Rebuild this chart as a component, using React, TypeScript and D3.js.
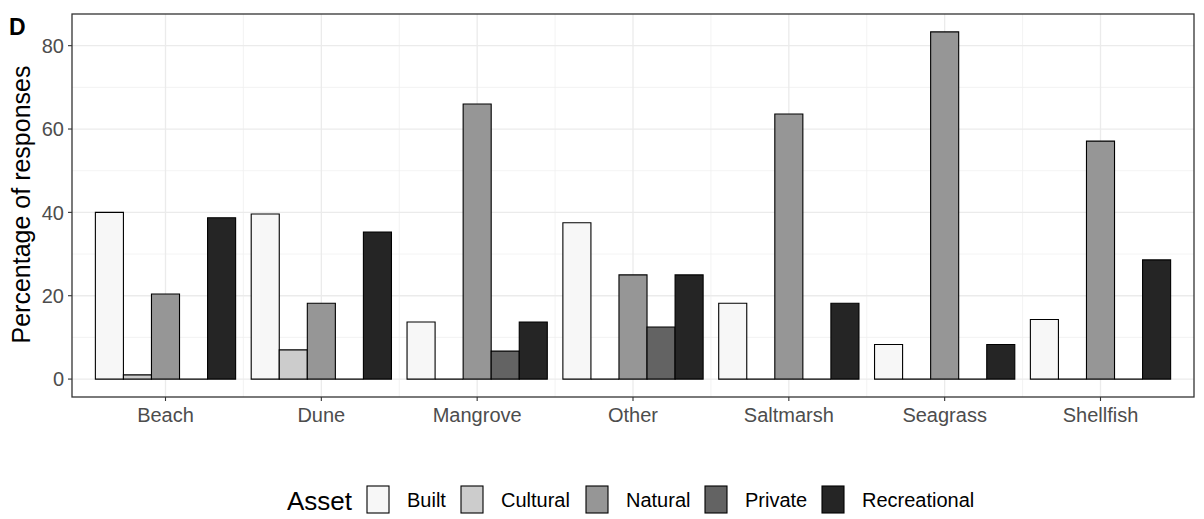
import React from "react";
import * as d3 from "d3";

const categories = ["Beach", "Dune", "Mangrove", "Other", "Saltmarsh", "Seagrass", "Shellfish"];
const assets = ["Built", "Cultural", "Natural", "Private", "Recreational"];
const built = [40.0, 39.6, 13.7, 37.5, 18.2, 8.3, 14.3];
const cultural = [1.0, 7.0, 0, 0, 0, 0, 0];
const natural = [20.4, 18.2, 66.0, 25.0, 63.6, 83.3, 57.1];
const priv = [0, 0, 6.7, 12.5, 0, 0, 0];
const recreational = [38.7, 35.3, 13.7, 25.0, 18.2, 8.3, 28.6];
const yTicks = [0, 20, 40, 60, 80];
const colors = ["#f7f7f7", "#cccccc", "#969696", "#636363", "#252525"];

const seriesValues = [built, cultural, natural, priv, recreational];

export default function App() {
  const W = 1204, H = 519;
  const left = 72, right = 1194, top = 14, bottom = 397;
  const font = "'Liberation Sans', Arial, sans-serif";

  const x = d3.scaleLinear().domain([1 - 0.6, categories.length + 0.6]).range([left, right]);
  const y = d3.scaleLinear().domain([-4.3, 87.6]).range([bottom, top]);
  const bw = (x(2) - x(1)) * 0.9;
  const sub = d3.scaleBand().domain(assets).range([-bw / 2, bw / 2]).padding(0);

  const minorY = [10, 30, 50, 70];
  const minorX = d3.range(1, categories.length).map((i) => i + 0.5);

  return (
    <svg width={W} height={H} style={{ position: "absolute", left: 0, top: 0 }} fontFamily={font}>
      <rect x={0} y={0} width={W} height={H} fill="#fff" />
      {minorY.map((v) => (
        <line key={"my" + v} x1={left} x2={right} y1={y(v)} y2={y(v)} stroke="#f0f0f0" strokeWidth={0.8} />
      ))}
      {minorX.map((v) => (
        <line key={"mx" + v} x1={x(v)} x2={x(v)} y1={top} y2={bottom} stroke="#f0f0f0" strokeWidth={0.8} />
      ))}
      {yTicks.map((v) => (
        <line key={"gy" + v} x1={left} x2={right} y1={y(v)} y2={y(v)} stroke="#ebebeb" strokeWidth={1.3} />
      ))}
      {categories.map((c, i) => (
        <line key={"gx" + c} x1={x(i + 1)} x2={x(i + 1)} y1={top} y2={bottom} stroke="#ebebeb" strokeWidth={1.3} />
      ))}
      {categories.map((c, i) =>
        assets.map((a, j) => {
          const v = seriesValues[j][i];
          const x0 = x(i + 1) + (sub(a) as number);
          const x1 = x0 + sub.bandwidth();
          const yt = y(v), yb = y(0);
          const d = `M${x0},${yb}L${x0},${yt}L${x1},${yt}L${x1},${yb}Z`;
          return <path key={c + a} d={d} fill={colors[j]} stroke="#000" strokeWidth={1.1} />;
        })
      )}
      <rect x={left} y={top} width={right - left} height={bottom - top} fill="none" stroke="#333" strokeWidth={1.3} />
      {yTicks.map((v) => (
        <g key={"yt" + v}>
          <line x1={left - 4} x2={left} y1={y(v)} y2={y(v)} stroke="#333" strokeWidth={1.1} />
          <text x={left - 8} y={y(v)} dy="0.36em" textAnchor="end" fontSize={20} fill="#4d4d4d">
            {v}
          </text>
        </g>
      ))}
      {categories.map((c, i) => (
        <g key={"xt" + c}>
          <line x1={x(i + 1)} x2={x(i + 1)} y1={bottom} y2={bottom + 4} stroke="#333" strokeWidth={1.1} />
          <text x={x(i + 1)} y={bottom + 25} textAnchor="middle" fontSize={20} fill="#4d4d4d">
            {c}
          </text>
        </g>
      ))}
      <text
        transform={`translate(30, ${(top + bottom) / 2 - 1}) rotate(-90)`}
        textAnchor="middle"
        fontSize={25}
        fill="#000"
      >
        Percentage of responses
      </text>
      <text x={9} y={35} fontSize={23} fontWeight="bold" fill="#000">D</text>
      <g>
        <text x={287} y={510} fontSize={26} fill="#000">Asset</text>
        {(() => {
          const keyX = [367, 461, 586, 705, 822];
          return assets.map((a, j) => (
            <g key={"lg" + a}>
              <rect x={keyX[j]} y={486} width={22} height={27} fill={colors[j]} stroke="#000" strokeWidth={1.1} />
              <text x={keyX[j] + 40} y={507} fontSize={20} fill="#000">{a}</text>
            </g>
          ));
        })()}
      </g>
    </svg>
  );
}
